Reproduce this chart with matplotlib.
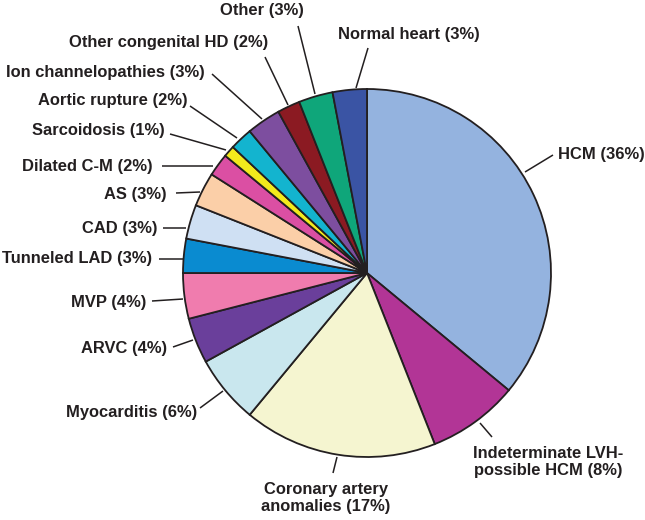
import numpy as np
import matplotlib
matplotlib.use("Agg")
import matplotlib.pyplot as plt

categories = ["HCM", "Indeterminate LVH-\npossible HCM", "Coronary artery\nanomalies", "Myocarditis",
              "ARVC", "MVP", "Tunneled LAD", "CAD", "AS", "Dilated C-M", "Sarcoidosis",
              "Aortic rupture", "Ion channelopathies", "Other congenital HD", "Other", "Normal heart"]
values = [36, 8, 17, 6, 4, 4, 3, 3, 3, 2, 1, 2, 3, 2, 3, 3]
colors = ["#94B3DF", "#B23596", "#F5F5D0", "#C9E7EE", "#6A3F9B", "#F07CAE", "#0A8BD0", "#CFE0F3",
          "#FBCFA8", "#DB4FA3", "#F3EA1C", "#13B4CF", "#7D4E9F", "#8B1A22", "#0FA67A", "#3A54A4"]

W, H = 645, 520
CX, CY, R = 367, 273, 184

def px(x, y):
    return (x - CX) / R, (CY - y) / R

# label layout in pixels: (text x, text y, ha, leader outer x, y, leader inner x, y)
layout = [
    (558, 154, "left", 553, 155, 525, 172),
    (548, 462, "center", 492, 437, 480, 423),
    (326, 498, "center", 333, 473, 337, 457),
    (197, 413, "right", 200, 408, 223, 391),
    (167, 349, "right", 173, 347, 193, 340),
    (146, 302, "right", 152, 301, 183, 299),
    (152, 258, "right", 159, 259, 183, 259),
    (158, 229, "right", 163, 228, 186, 228),
    (167, 195, "right", 176, 193, 200, 192),
    (153, 166, "right", 162, 166, 213, 166),
    (165, 130, "right", 170, 134, 226, 150),
    (188, 101, "right", 190, 106, 237, 138),
    (205, 72, "right", 212, 74, 262, 119),
    (268, 43, "right", 265, 57, 288, 105),
    (304, 11, "right", 298, 26, 315, 94),
    (338, 35, "left", 368, 48, 356, 88),
]

fig = plt.figure(figsize=(W / 100, H / 100), dpi=100)
ax = fig.add_axes([0, 0, 1, 1])

wedges, _ = ax.pie(values, colors=colors, startangle=90, counterclock=False, radius=1,
                   wedgeprops=dict(edgecolor="#231F20", linewidth=1.3))
ax.set_aspect("auto")
ax.set_xlim(-CX / R, (W - CX) / R)
ax.set_ylim(-(H - CY) / R, CY / R)
ax.axis("off")

fontkw = dict(family=["Liberation Sans", "DejaVu Sans"], fontweight="bold", fontsize=11.9, color="#231F20")
for w, cat, val, (tx, ty, ha, lx, ly, ix, iy) in zip(wedges, categories, values, layout):
    x0, y0 = px(ix, iy)
    x1, y1 = px(lx, ly)
    ax.plot([x0, x1], [y0, y1], color="#231F20", lw=1.1, solid_capstyle="butt")
    if "\n" in cat:
        a, b = cat.split("\n")
        label = f"{a}\n{b} ({val}%)"
    else:
        label = f"{cat} ({val}%)"
    x, y = px(tx, ty)
    ax.text(x, y, label, ha=ha, va="center", multialignment="center", linespacing=1.2, **fontkw)

fig.savefig("out.png", dpi=100)
